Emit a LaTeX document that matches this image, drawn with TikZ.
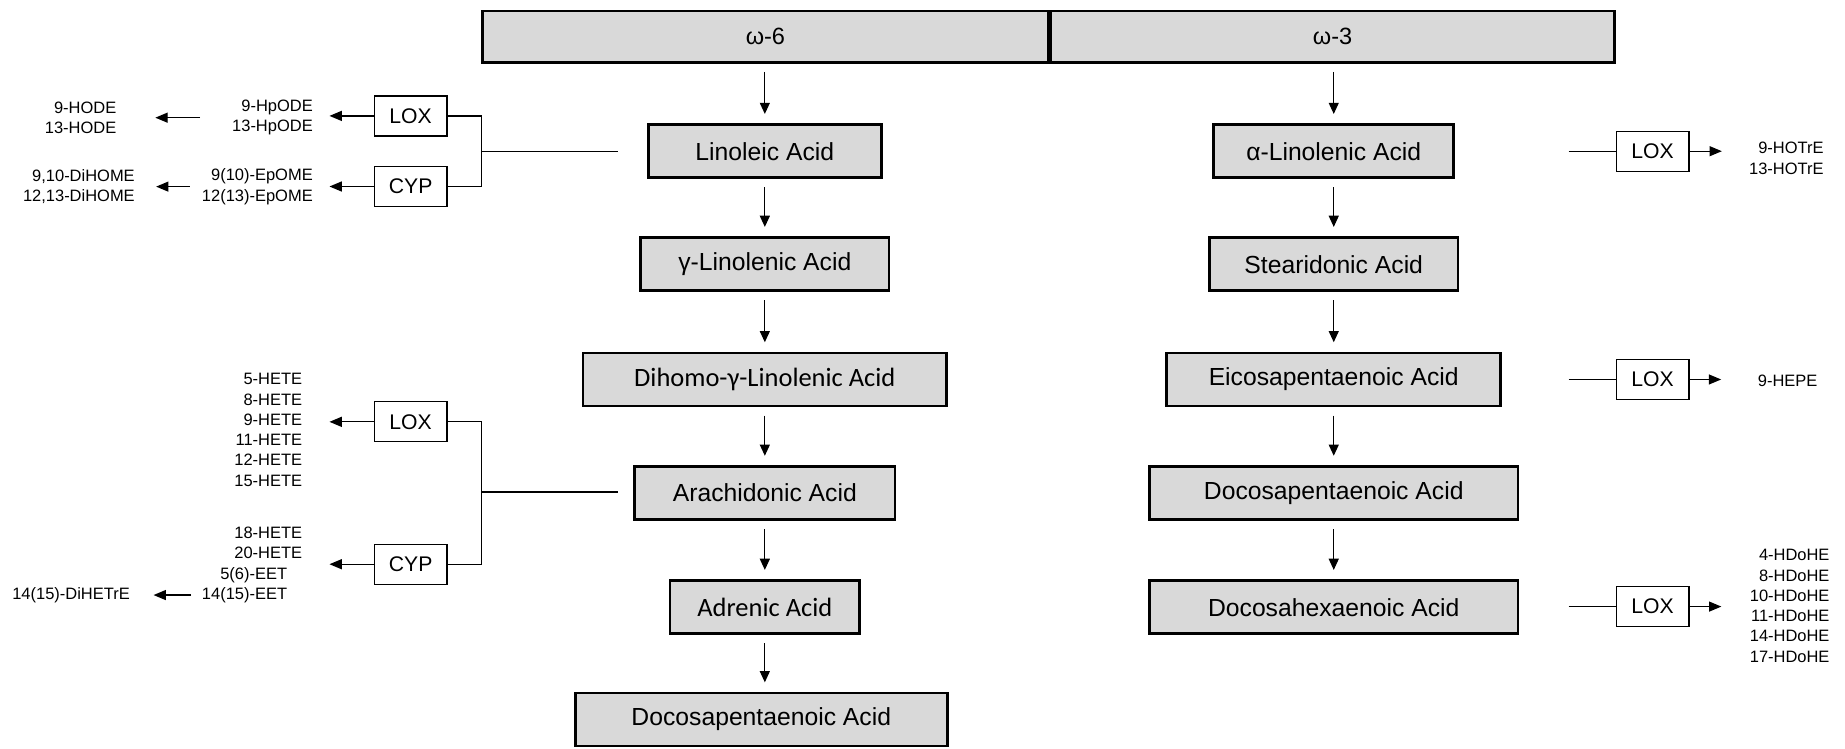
\documentclass[tikz,border=0pt]{standalone}
\usepackage{fontspec}
\setmainfont{Liberation Sans}
\newfontfamily\calibrifont{Carlito}
\usetikzlibrary{arrows.meta}
\definecolor{acidgray}{RGB}{217,217,217}
\tikzset{
	acid/.style={draw, line width=2.3pt, fill=acidgray, minimum height=45pt, inner sep=0pt, font=\fontsize{21}{25}\selectfont},
	omega/.style={acid, minimum height=43.5pt, font=\fontsize{20}{24}\selectfont},
	enzyme/.style={draw, line width=1.1pt, minimum width=62pt, minimum height=34pt, inner sep=0pt, font=\fontsize{18}{22}\selectfont},
	metab/.style={inner sep=0pt, align=right, anchor=east, font=\fontsize{14}{17.2}\selectfont},
	flow/.style={-{Triangle[length=9.5pt,width=8.5pt]}, line width=1pt, shorten <=7pt, shorten >=8pt},
	conv/.style={-{Triangle[length=10.5pt,width=8.5pt]}, line width=1.1pt},
	branch/.style={line width=1.1pt}
}
\begin{document}
\begin{tikzpicture}[x=1pt, y=-1pt]
		\useasboundingbox (0,0) rectangle (1568,635.7);
		
		\node[omega, minimum width=481pt] (om6) at (650.5,31.2) {ω-6};
		\node[omega, minimum width=479pt] (om3) at (1132.5,31.2) {ω-3};
		
		% omega-6 column
		\node[acid, minimum width=198pt] (la) at (650,128.5) {Linoleic Acid};
		\node[acid, minimum width=211pt] (gla) at (650,224.5) {γ-Linolenic Acid};
		\node[acid, minimum width=309pt, font=\calibrifont\fontsize{22.5}{26}\selectfont] (dgla) at (650,322.5) {Dihomo-γ-Linolenic Acid};
		\node[acid, minimum width=221pt] (aa) at (650,419) {Arachidonic Acid};
		\node[acid, minimum width=161pt, font=\calibrifont\fontsize{22.5}{26}\selectfont] (adr) at (650,516) {Adrenic Acid};
		\node[acid, minimum width=316pt] (dpa6) at (647,611.5) {Docosapentaenoic Acid};
		
		% omega-3 column
		\node[acid, minimum width=204pt] (ala) at (1133.5,128.5) {α-Linolenic Acid};
		\node[acid, minimum width=211pt] (sda) at (1133.5,224.5) {Stearidonic Acid};
		\node[acid, minimum width=284pt] (epa) at (1133.5,322.5) {Eicosapentaenoic Acid};
		\node[acid, minimum width=313pt] (dpa3) at (1133.5,419) {Docosapentaenoic Acid};
		\node[acid, minimum width=313pt] (dha) at (1133.5,516) {Docosahexaenoic Acid};
		
		\draw[flow] (la |- om6.south) -- (la);
		\draw[flow] (ala |- om3.south) -- (ala);
		\foreach \a/\b in {la/gla, gla/dgla, dgla/aa, aa/adr, adr/dpa6, ala/sda, sda/epa, epa/dpa3, dpa3/dha}
		{
			\draw[flow] (\a) -- (\a |- \b.north);
		}
		
		% linoleic acid branches
		\node[enzyme] (laLOX) at (349,98.5) {LOX};
		\node[enzyme] (laCYP) at (349,158.5) {CYP};
		\coordinate (labr) at (409,128.5);
		\coordinate (lajoin) at (525.5,128.5);
		\draw[branch] (laLOX.east) -| (labr) |- (laCYP.east);
		\draw[branch] (labr) -- (lajoin);
		\node[metab] (laHp) at (266,100) {9-HpODE\\13-HpODE};
		\node[metab] (laHO) at (99,100) {9-HODE\\13-HODE};
		\node[metab] (laEp) at (266,158.6) {9(10)-EpOME\\12(13)-EpOME};
		\node[metab] (laDi) at (114.7,158.6) {9,10-DiHOME\\12,13-DiHOME};
		\draw[conv, shorten >=14pt] (laLOX) -- (laLOX -| laHp.east);
		\draw[conv, shorten >=14pt] (laCYP) -- (laCYP -| laEp.east);
		\draw[conv, shorten <=27pt, shorten >=33pt] (laHp) -- (laHO);
		\draw[conv, shorten <=10pt, shorten >=18pt] (laEp) -- (laDi);
		
		% arachidonic acid branches
		\node[enzyme] (aaLOX) at (349,358.5) {LOX};
		\node[enzyme] (aaCYP) at (349,479.5) {CYP};
		\coordinate (aabr) at (409,418);
		\coordinate (aajoin) at (525.5,418);
		\draw[branch] (aaLOX.east) -| (aabr) |- (aaCYP.east);
		\draw[branch] (aabr) -- (aajoin);
		\node[metab] (aaHETE) at (257,365.4) {5-HETE\\8-HETE\\9-HETE\\11-HETE\\12-HETE\\15-HETE};
		\node[metab] (aaHETEc) at (257,461.3) {18-HETE\\20-HETE};
		\node[metab] (aaEET) at (244.2,488.7) {5(6)-EET};
		\node[metab] (aaEETb) at (244.2,505.7) {14(15)-EET};
		\node[metab] (aaDiH) at (110.5,505.7) {14(15)-DiHETrE};
		\draw[conv, shorten >=23pt] (aaLOX) -- (aaLOX -| aaHETE.east);
		\draw[conv, shorten >=23pt] (aaCYP) -- (aaCYP -| aaHETEc.east);
		\draw[conv, shorten <=9pt, shorten >=20pt] (aaEETb) -- (aaDiH);
		
		% omega-3 LOX branches
		\coordinate (alajoin) at (1333,128.5);
		\node[enzyme] (alaLOX) at (1404.5,128.5) {LOX};
		\node[metab] (alaHOT) at (1550,134.5) {9-HOTrE\\13-HOTrE};
		\draw[branch] (alajoin) -- (alaLOX);
		\draw[conv, shorten >=23pt] (alaLOX) -- (alaLOX -| alaHOT.west);
		
		\coordinate (epajoin) at (1333,322.5);
		\node[enzyme] (epaLOX) at (1404.5,322.5) {LOX};
		\node[metab] (epaHEPE) at (1544.7,323.8) {9-HEPE};
		\draw[branch] (epajoin) -- (epaLOX);
		\draw[conv, shorten >=31pt] (epaLOX) -- (epaLOX -| epaHEPE.west);
		
		\coordinate (dhajoin) at (1333,515.5);
		\node[enzyme] (dhaLOX) at (1404.5,515.5) {LOX};
		\node[metab] (dhaHDo) at (1555,515) {4-HDoHE\\8-HDoHE\\10-HDoHE\\11-HDoHE\\14-HDoHE\\17-HDoHE};
		\draw[branch] (dhajoin) -- (dhaLOX);
		\draw[conv, shorten >=24pt] (dhaLOX) -- (dhaLOX -| dhaHDo.west);
	\end{tikzpicture}
\end{document}
